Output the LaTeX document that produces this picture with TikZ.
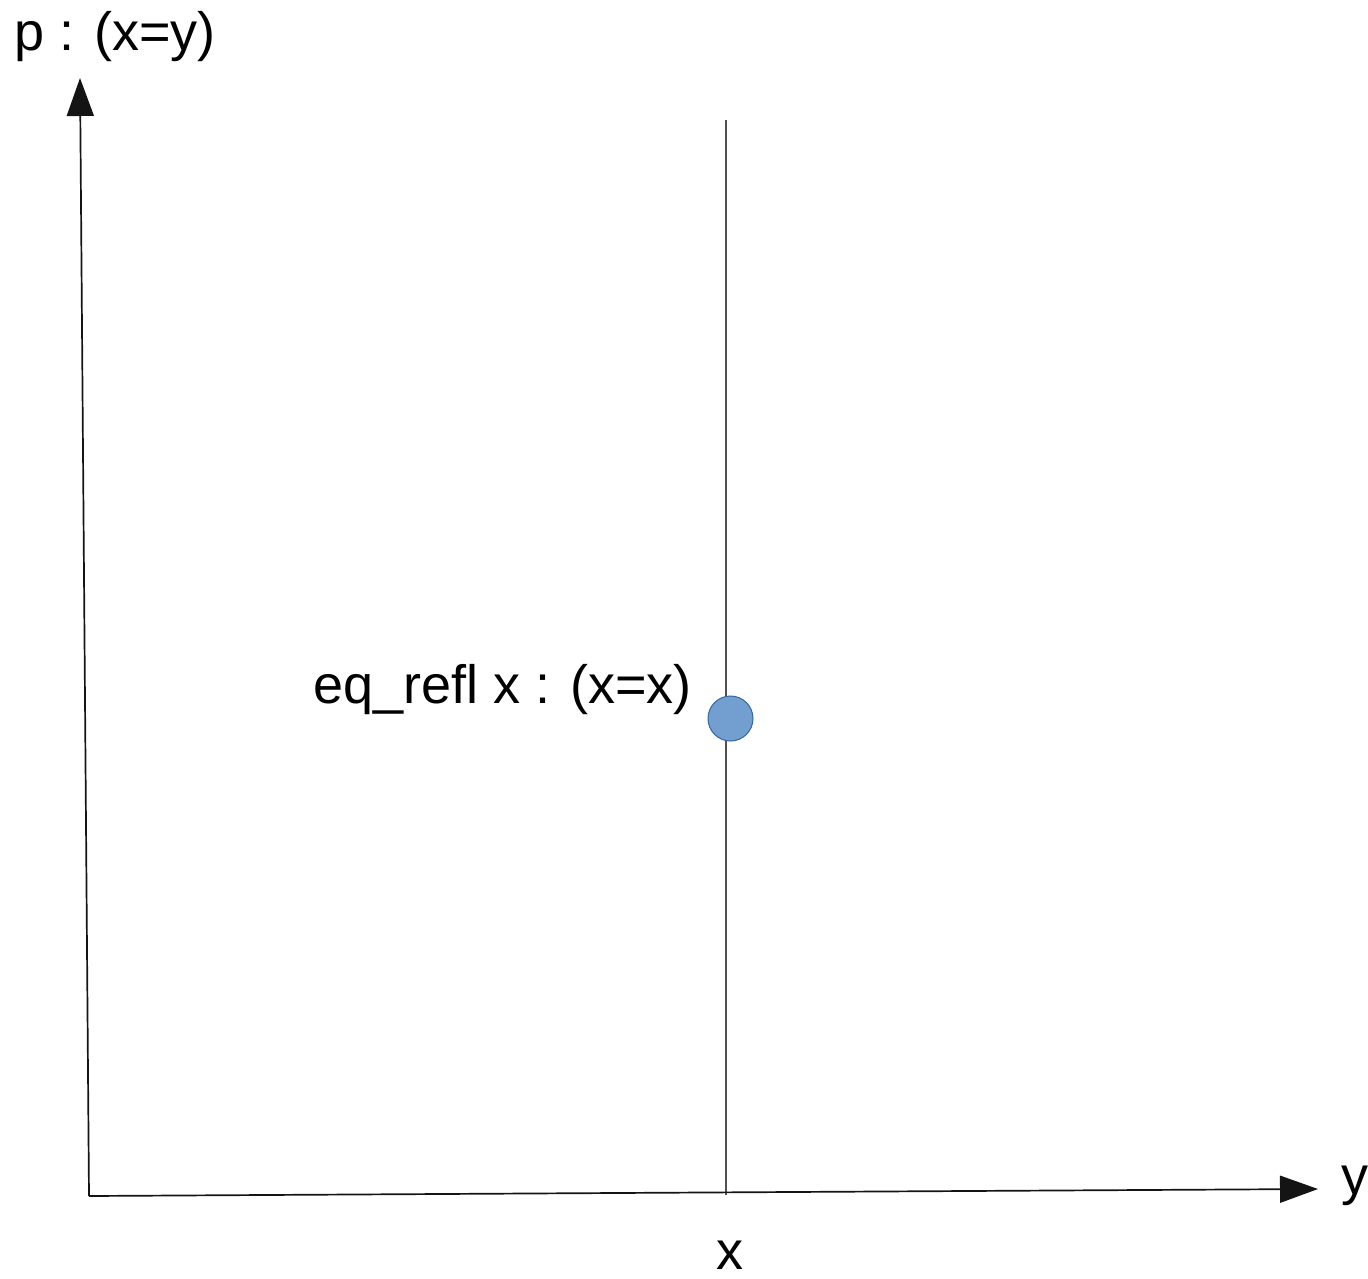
\documentclass[tikz,border=0pt]{standalone}
\usepackage{fontspec}
\setmainfont{Liberation Sans}
\usetikzlibrary{arrows.meta}
\definecolor{dotfill}{RGB}{114,159,207}
\definecolor{dotedge}{RGB}{52,101,164}
\definecolor{axiscol}{RGB}{20,20,20}
\definecolor{linecol}{RGB}{80,80,80}
\begin{document}
\begin{tikzpicture}[x=1pt,y=-1pt,
  lbl/.style={inner sep=0pt,font=\fontsize{54}{64}\selectfont},
  axis/.style={line width=1.7pt,draw=axiscol,-{Triangle[length=38pt,width=27pt]}},
  vline/.style={line width=1.5pt,draw=linecol},
  dot/.style={circle,minimum size=45pt,inner sep=0pt,fill=dotfill,draw=dotedge,line width=1pt}]
\useasboundingbox (0,0) rectangle (1368,1279);
\fill[white] (0,0) rectangle (1368,1279);
\coordinate (O) at (89,1196);
\coordinate (ytop) at (80,78);
\coordinate (xend) at (1318,1189);
\coordinate (vtop) at (726,120);
\coordinate (vbot) at (726,1195);
\draw[vline] (vtop) -- (vbot);
\draw[axis] (O) -- (ytop);
\draw[axis] (O) -- (xend);
\node[dot] (refl) at (730.5,718.5) {};
\node[lbl,anchor=base west] (plabel) at (14,51) {p : (x=y)};
\node[lbl,anchor=base west] (refllabel) at (313,703) {eq\_refl x : (x=x)};
\node[lbl,anchor=base] (xlabel) at (729.5,1269) {x};
\node[lbl,anchor=base west] (ylabel) at (1341,1194) {y};
\end{tikzpicture}
\end{document}
